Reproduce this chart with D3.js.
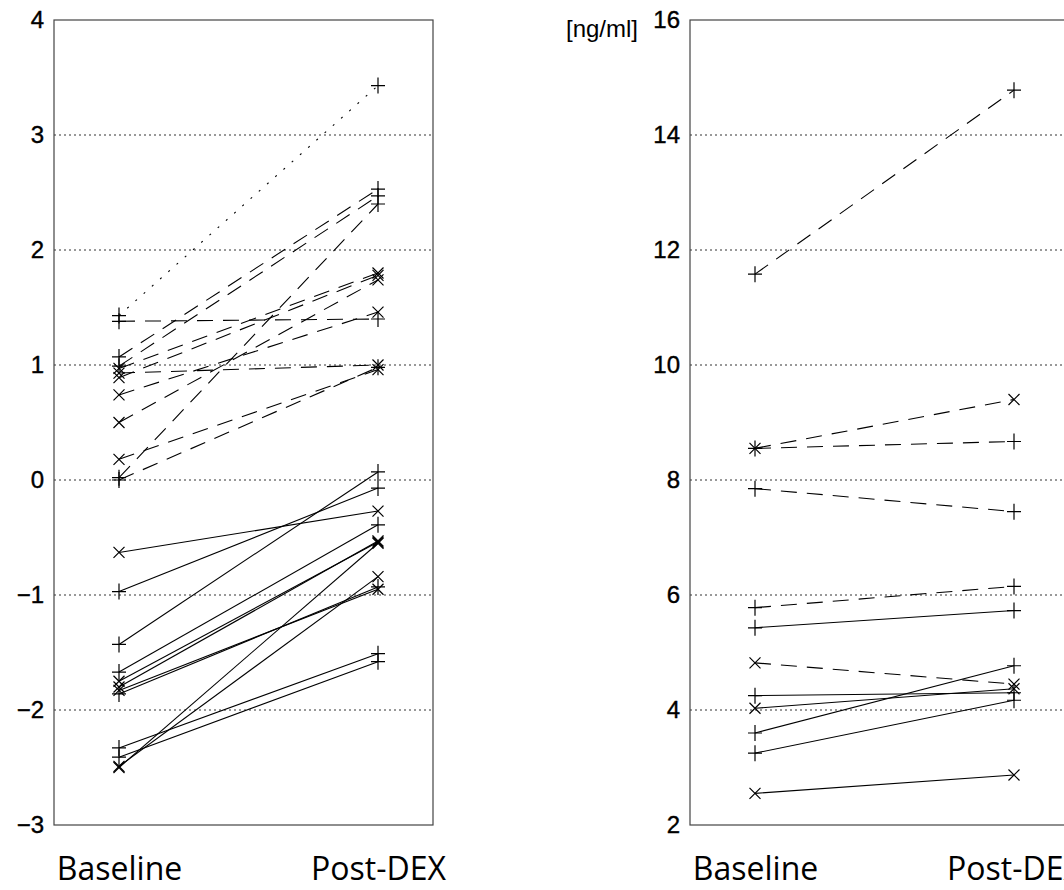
<!DOCTYPE html>
<html>
<head>
<meta charset="utf-8">
<script src="https://cdnjs.cloudflare.com/ajax/libs/d3/7.8.5/d3.min.js"></script>
<style>
  body { margin: 0; background: #fff; }
  svg { display: block; }
</style>
</head>
<body>
<div id="chart"></div>
<script>
var categories = ["Baseline", "Post-DEX"];

// left panel (log scale values)
var leftTicks = [-3, -2, -1, 0, 1, 2, 3, 4];
var leftBaseline = [1.43, 1.38, 1.07, 0.99, 0.97, 0.93, 0.89, 0.74, 0.50, 0.18, 0.02, 0.00,
                    -0.63, -0.97, -1.43, -1.67, -1.75, -1.80, -1.83, -1.86, -2.33, -2.41, -2.50, -2.49];
var leftPost = [3.43, 1.40, 2.53, 2.47, 1.80, 1.00, 1.78, 1.46, 1.74, 0.96, 2.40, 0.98,
                -0.27, -0.07, 0.07, -0.39, -0.54, -0.53, -0.95, -0.93, -1.51, -1.58, -0.55, -0.84];
var leftMarker = ["+", "+", "+", "+", "x", "x", "x", "x", "x", "x", "+", "+",
                  "x", "+", "+", "+", "x", "x", "x", "+", "+", "+", "x", "x"];
var leftGroup = [0, 1, 1, 1, 1, 1, 1, 1, 1, 1, 1, 1,
                 2, 2, 2, 2, 2, 2, 2, 2, 2, 2, 2, 2];

// right panel [ng/ml]
var rightTicks = [2, 4, 6, 8, 10, 12, 14, 16];
var rightBaseline = [11.58, 8.55, 8.55, 7.85, 5.78, 4.82, 5.43, 4.25, 4.03, 3.60, 3.25, 2.55];
var rightPost = [14.78, 9.40, 8.67, 7.45, 6.15, 4.45, 5.73, 4.30, 4.37, 4.77, 4.17, 2.87];
var rightMarker = ["+", "x", "+", "+", "+", "x", "+", "+", "x", "+", "+", "x"];
var rightGroup = [1, 1, 1, 1, 1, 1, 2, 2, 2, 2, 2, 2];

var svg = d3.select("#chart")
    .append("svg")
    .attr("width", 1064)
    .attr("height", 890);

var plotTop = 20, plotBottom = 825, panelW = 379;
var dashes = ["2,9", "16,10", null];

function drawPanel(left, ticks, base, post, marker, group) {
  var y = d3.scaleLinear()
      .domain([d3.min(ticks), d3.max(ticks)])
      .range([plotBottom, plotTop]);
  var x = d3.scalePoint()
      .domain(categories)
      .range([left + 65, left + 324]);

  var g = svg.append("g");

  // grid
  g.selectAll("line.grid")
      .data(ticks.slice(1, -1))
    .enter().append("line")
      .attr("class", "grid")
      .attr("x1", left).attr("x2", left + panelW)
      .attr("y1", function(d) { return y(d); })
      .attr("y2", function(d) { return y(d); })
      .style("stroke", "#333")
      .style("stroke-width", 1)
      .style("stroke-dasharray", "2,3");

  // frame
  g.append("rect")
      .attr("x", left).attr("y", plotTop)
      .attr("width", panelW).attr("height", plotBottom - plotTop)
      .style("fill", "none")
      .style("stroke", "#444")
      .style("stroke-width", 1.2);

  // y axis
  var ya = g.append("g")
      .attr("transform", "translate(" + left + ",0)")
      .call(d3.axisLeft(y).tickValues(ticks).tickSize(0).tickPadding(10).tickFormat(d3.format("d")));
  ya.select(".domain").remove();
  ya.selectAll("text")
      .style("font-family", "'Liberation Sans', Arial, sans-serif")
      .style("font-size", "24px")
      .style("fill", "#000")
      .style("stroke", "#000")
      .style("stroke-width", 0.4);

  // x axis labels
  var xa = g.append("g")
      .attr("transform", "translate(0," + plotBottom + ")")
      .call(d3.axisBottom(x).tickSize(0).tickPadding(32));
  xa.select(".domain").remove();
  xa.selectAll("text")
      .style("font-family", "'Open Sans', sans-serif")
      .style("font-size", "32px")
      .style("fill", "#000");

  var idx = d3.range(base.length);

  // connecting lines
  g.selectAll("line.subj")
      .data(idx)
    .enter().append("line")
      .attr("class", "subj")
      .attr("x1", x(categories[0]))
      .attr("x2", x(categories[1]))
      .attr("y1", function(i) { return y(base[i]); })
      .attr("y2", function(i) { return y(post[i]); })
      .style("stroke", "#000")
      .style("stroke-width", 1.1)
      .style("stroke-dasharray", function(i) { return dashes[group[i]]; });

  // markers
  var pts = [];
  idx.forEach(function(i) {
    pts.push({cx: x(categories[0]), cy: y(base[i]), m: marker[i]});
    pts.push({cx: x(categories[1]), cy: y(post[i]), m: marker[i]});
  });
  g.selectAll("path.mark")
      .data(pts)
    .enter().append("path")
      .attr("class", "mark")
      .attr("d", function(d) {
        if (d.m == "+") {
          return "M" + (d.cx - 7) + "," + d.cy + "H" + (d.cx + 7) +
                 "M" + d.cx + "," + (d.cy - 8) + "V" + (d.cy + 8);
        }
        var s = 5.5;
        return "M" + (d.cx - s) + "," + (d.cy - s) + "L" + (d.cx + s) + "," + (d.cy + s) +
               "M" + (d.cx - s) + "," + (d.cy + s) + "L" + (d.cx + s) + "," + (d.cy - s);
      })
      .style("stroke", "#000")
      .style("stroke-width", 1.2)
      .style("fill", "none");

  return g;
}

drawPanel(54, leftTicks, leftBaseline, leftPost, leftMarker, leftGroup);
drawPanel(690, rightTicks, rightBaseline, rightPost, rightMarker, rightGroup);

// unit label
svg.append("text")
    .attr("x", 638)
    .attr("y", 37)
    .attr("text-anchor", "end")
    .style("font-family", "'Liberation Sans', Arial, sans-serif")
    .style("font-size", "24px")
    .text("[ng/ml]");
</script>
</body>
</html>
